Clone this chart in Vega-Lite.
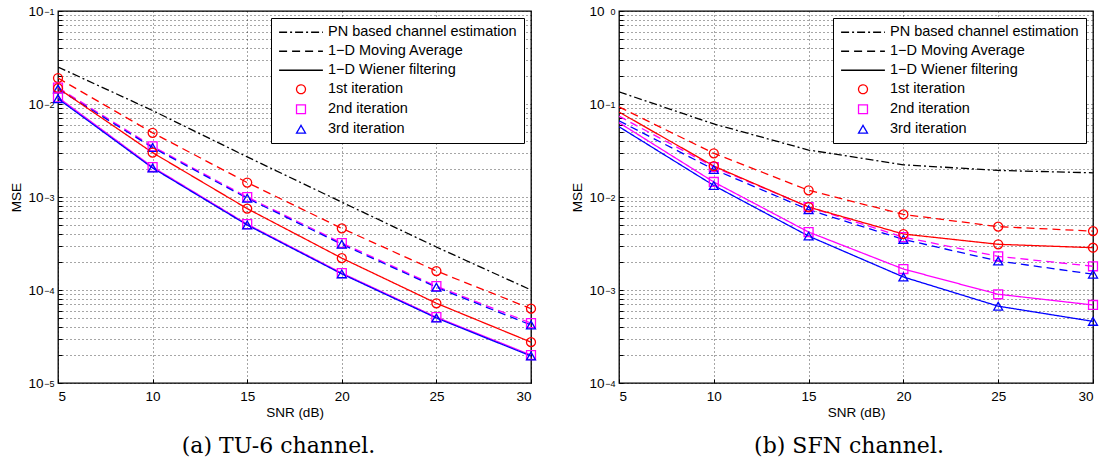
{
  "$schema": "https://vega.github.io/schema/vega-lite/v6.json",
  "background": "white",
  "padding": {"left": 9, "top": 3, "right": 4, "bottom": 5},
  "config": {
    "view": {"stroke": "black", "strokeWidth": 1.3},
    "font": "Liberation Sans",
    "axis": {
      "labelFont": "Liberation Sans", "labelFontSize": 13.5, "labelColor": "black",
      "titleFont": "Liberation Sans", "titleFontSize": 13.5, "titleFontWeight": "normal", "titleColor": "black",
      "grid": true, "gridColor": "black", "gridOpacity": 0.7, "gridDash": [1, 3], "gridWidth": 1,
      "domain": false, "ticks": true, "tickSize": -4, "tickColor": "black", "tickWidth": 1, "labelOverlap": false
    },
    "legend": {
      "orient": "top-right", "offset": 7, "fillColor": "white", "strokeColor": "black", "strokeWidth": 1,
      "padding": 7, "cornerRadius": 0, "labelFont": "Liberation Sans", "labelFontSize": 14.5, "labelColor": "black",
      "labelLimit": 400, "symbolType": "stroke", "symbolSize": 120, "symbolStrokeWidth": 1.3, "labelOffset": 5, "rowPadding": 4
    },
    "title": {"font": "DejaVu Serif", "fontSize": 22, "fontWeight": "normal", "color": "black", "orient": "bottom", "offset": 17}
  },
  "datasets": {
    "tu6": [
      {"snr": 5, "method": "PN based channel estimation", "iter": "none", "mse": 0.025},
      {"snr": 10, "method": "PN based channel estimation", "iter": "none", "mse": 0.0085},
      {"snr": 15, "method": "PN based channel estimation", "iter": "none", "mse": 0.0027},
      {"snr": 20, "method": "PN based channel estimation", "iter": "none", "mse": 0.00088},
      {"snr": 25, "method": "PN based channel estimation", "iter": "none", "mse": 0.00029},
      {"snr": 30, "method": "PN based channel estimation", "iter": "none", "mse": 0.0001},
      {"snr": 5, "method": "1−D Moving Average", "iter": "1st iteration", "mse": 0.019},
      {"snr": 10, "method": "1−D Moving Average", "iter": "1st iteration", "mse": 0.0049},
      {"snr": 15, "method": "1−D Moving Average", "iter": "1st iteration", "mse": 0.00143},
      {"snr": 20, "method": "1−D Moving Average", "iter": "1st iteration", "mse": 0.00046},
      {"snr": 25, "method": "1−D Moving Average", "iter": "1st iteration", "mse": 0.00016},
      {"snr": 30, "method": "1−D Moving Average", "iter": "1st iteration", "mse": 0.000063},
      {"snr": 5, "method": "1−D Moving Average", "iter": "2nd iteration", "mse": 0.015},
      {"snr": 10, "method": "1−D Moving Average", "iter": "2nd iteration", "mse": 0.0035},
      {"snr": 15, "method": "1−D Moving Average", "iter": "2nd iteration", "mse": 0.001},
      {"snr": 20, "method": "1−D Moving Average", "iter": "2nd iteration", "mse": 0.00032},
      {"snr": 25, "method": "1−D Moving Average", "iter": "2nd iteration", "mse": 0.00011},
      {"snr": 30, "method": "1−D Moving Average", "iter": "2nd iteration", "mse": 0.000044},
      {"snr": 5, "method": "1−D Moving Average", "iter": "3rd iteration", "mse": 0.0145},
      {"snr": 10, "method": "1−D Moving Average", "iter": "3rd iteration", "mse": 0.0034},
      {"snr": 15, "method": "1−D Moving Average", "iter": "3rd iteration", "mse": 0.00097},
      {"snr": 20, "method": "1−D Moving Average", "iter": "3rd iteration", "mse": 0.00031},
      {"snr": 25, "method": "1−D Moving Average", "iter": "3rd iteration", "mse": 0.000107},
      {"snr": 30, "method": "1−D Moving Average", "iter": "3rd iteration", "mse": 0.000042},
      {"snr": 5, "method": "1−D Wiener filtering", "iter": "1st iteration", "mse": 0.0148},
      {"snr": 10, "method": "1−D Wiener filtering", "iter": "1st iteration", "mse": 0.003},
      {"snr": 15, "method": "1−D Wiener filtering", "iter": "1st iteration", "mse": 0.00075},
      {"snr": 20, "method": "1−D Wiener filtering", "iter": "1st iteration", "mse": 0.00022},
      {"snr": 25, "method": "1−D Wiener filtering", "iter": "1st iteration", "mse": 0.000072},
      {"snr": 30, "method": "1−D Wiener filtering", "iter": "1st iteration", "mse": 0.0000275},
      {"snr": 5, "method": "1−D Wiener filtering", "iter": "2nd iteration", "mse": 0.0118},
      {"snr": 10, "method": "1−D Wiener filtering", "iter": "2nd iteration", "mse": 0.0021},
      {"snr": 15, "method": "1−D Wiener filtering", "iter": "2nd iteration", "mse": 0.00051},
      {"snr": 20, "method": "1−D Wiener filtering", "iter": "2nd iteration", "mse": 0.000152},
      {"snr": 25, "method": "1−D Wiener filtering", "iter": "2nd iteration", "mse": 0.000051},
      {"snr": 30, "method": "1−D Wiener filtering", "iter": "2nd iteration", "mse": 0.00002},
      {"snr": 5, "method": "1−D Wiener filtering", "iter": "3rd iteration", "mse": 0.0114},
      {"snr": 10, "method": "1−D Wiener filtering", "iter": "3rd iteration", "mse": 0.00205},
      {"snr": 15, "method": "1−D Wiener filtering", "iter": "3rd iteration", "mse": 0.0005},
      {"snr": 20, "method": "1−D Wiener filtering", "iter": "3rd iteration", "mse": 0.000149},
      {"snr": 25, "method": "1−D Wiener filtering", "iter": "3rd iteration", "mse": 0.00005},
      {"snr": 30, "method": "1−D Wiener filtering", "iter": "3rd iteration", "mse": 0.0000195}
    ],
    "sfn": [
      {"snr": 5, "method": "PN based channel estimation", "iter": "none", "mse": 0.135},
      {"snr": 10, "method": "PN based channel estimation", "iter": "none", "mse": 0.061},
      {"snr": 15, "method": "PN based channel estimation", "iter": "none", "mse": 0.032},
      {"snr": 20, "method": "PN based channel estimation", "iter": "none", "mse": 0.0222},
      {"snr": 25, "method": "PN based channel estimation", "iter": "none", "mse": 0.0193},
      {"snr": 30, "method": "PN based channel estimation", "iter": "none", "mse": 0.0182},
      {"snr": 5, "method": "1−D Moving Average", "iter": "1st iteration", "mse": 0.093},
      {"snr": 10, "method": "1−D Moving Average", "iter": "1st iteration", "mse": 0.0295},
      {"snr": 15, "method": "1−D Moving Average", "iter": "1st iteration", "mse": 0.0118},
      {"snr": 20, "method": "1−D Moving Average", "iter": "1st iteration", "mse": 0.0065},
      {"snr": 25, "method": "1−D Moving Average", "iter": "1st iteration", "mse": 0.0048},
      {"snr": 30, "method": "1−D Moving Average", "iter": "1st iteration", "mse": 0.0043},
      {"snr": 5, "method": "1−D Moving Average", "iter": "2nd iteration", "mse": 0.074},
      {"snr": 10, "method": "1−D Moving Average", "iter": "2nd iteration", "mse": 0.021},
      {"snr": 15, "method": "1−D Moving Average", "iter": "2nd iteration", "mse": 0.0078},
      {"snr": 20, "method": "1−D Moving Average", "iter": "2nd iteration", "mse": 0.0037},
      {"snr": 25, "method": "1−D Moving Average", "iter": "2nd iteration", "mse": 0.0023},
      {"snr": 30, "method": "1−D Moving Average", "iter": "2nd iteration", "mse": 0.0018},
      {"snr": 5, "method": "1−D Moving Average", "iter": "3rd iteration", "mse": 0.066},
      {"snr": 10, "method": "1−D Moving Average", "iter": "3rd iteration", "mse": 0.0198},
      {"snr": 15, "method": "1−D Moving Average", "iter": "3rd iteration", "mse": 0.0073},
      {"snr": 20, "method": "1−D Moving Average", "iter": "3rd iteration", "mse": 0.0035},
      {"snr": 25, "method": "1−D Moving Average", "iter": "3rd iteration", "mse": 0.00205},
      {"snr": 30, "method": "1−D Moving Average", "iter": "3rd iteration", "mse": 0.00148},
      {"snr": 5, "method": "1−D Wiener filtering", "iter": "1st iteration", "mse": 0.082},
      {"snr": 10, "method": "1−D Wiener filtering", "iter": "1st iteration", "mse": 0.0215},
      {"snr": 15, "method": "1−D Wiener filtering", "iter": "1st iteration", "mse": 0.0078},
      {"snr": 20, "method": "1−D Wiener filtering", "iter": "1st iteration", "mse": 0.004},
      {"snr": 25, "method": "1−D Wiener filtering", "iter": "1st iteration", "mse": 0.0031},
      {"snr": 30, "method": "1−D Wiener filtering", "iter": "1st iteration", "mse": 0.00285},
      {"snr": 5, "method": "1−D Wiener filtering", "iter": "2nd iteration", "mse": 0.063},
      {"snr": 10, "method": "1−D Wiener filtering", "iter": "2nd iteration", "mse": 0.0145},
      {"snr": 15, "method": "1−D Wiener filtering", "iter": "2nd iteration", "mse": 0.0042},
      {"snr": 20, "method": "1−D Wiener filtering", "iter": "2nd iteration", "mse": 0.00168},
      {"snr": 25, "method": "1−D Wiener filtering", "iter": "2nd iteration", "mse": 0.0009},
      {"snr": 30, "method": "1−D Wiener filtering", "iter": "2nd iteration", "mse": 0.00069},
      {"snr": 5, "method": "1−D Wiener filtering", "iter": "3rd iteration", "mse": 0.057},
      {"snr": 10, "method": "1−D Wiener filtering", "iter": "3rd iteration", "mse": 0.0133},
      {"snr": 15, "method": "1−D Wiener filtering", "iter": "3rd iteration", "mse": 0.0038},
      {"snr": 20, "method": "1−D Wiener filtering", "iter": "3rd iteration", "mse": 0.00138},
      {"snr": 25, "method": "1−D Wiener filtering", "iter": "3rd iteration", "mse": 0.00067},
      {"snr": 30, "method": "1−D Wiener filtering", "iter": "3rd iteration", "mse": 0.00046}
    ]
  },
  "spacing": 31,
  "resolve": {
    "scale": {"x": "independent", "y": "independent", "color": "independent", "strokeDash": "independent", "shape": "independent"},
    "legend": {"strokeDash": "independent", "color": "independent", "shape": "independent"}
  },
  "hconcat": [
    {
      "width": 473, "height": 372,
      "title": {"text": "(a) TU-6 channel.", "dx": -16},
      "data": {"name": "tu6"},
      "resolve": {"axis": {"y": "independent"}},
      "layer": [
        {
          "mark": {"type": "line", "strokeWidth": 1.3, "clip": true},
          "encoding": {
            "x": {"field": "snr", "type": "quantitative", "scale": {"domain": [5, 30], "nice": false, "zero": false},
                  "axis": {"values": [5, 10, 15, 20, 25, 30], "title": "SNR (dB)", "labelPadding": 10, "titlePadding": 3}},
            "y": {"field": "mse", "type": "quantitative", "scale": {"type": "log", "domain": [0.00001, 0.1], "nice": false},
                  "axis": {"title": "MSE", "titlePadding": 4, "labelPadding": 19,
                    "values": [0.00001, 0.00002, 0.00003, 0.00004, 0.00005, 0.00006, 0.00007, 0.00008, 0.00009, 0.0001, 0.0002, 0.0003, 0.0004, 0.0005, 0.0006, 0.0007, 0.0008, 0.0009, 0.001, 0.002, 0.003, 0.004, 0.005, 0.006, 0.007, 0.008, 0.009, 0.01, 0.02, 0.03, 0.04, 0.05, 0.06, 0.07, 0.08, 0.09, 0.1],
                    "labelExpr": "abs(log(datum.value)/LN10 - round(log(datum.value)/LN10)) < 0.000001 ? '10' : ''"}},
            "color": {"field": "iter", "type": "nominal", "scale": {"domain": ["none", "1st iteration", "2nd iteration", "3rd iteration"], "range": ["#000000", "#ff0000", "#ff00ff", "#0000ff"]}, "legend": null},
            "strokeDash": {"field": "method", "type": "nominal",
              "scale": {"domain": ["PN based channel estimation", "1−D Moving Average", "1−D Wiener filtering", "1st iteration", "2nd iteration", "3rd iteration"], "range": [[8, 3, 2, 3], [8, 5], [1, 0], [1, 0], [1, 0], [1, 0]]},
              "legend": {"title": null,
                "encode": {
                  "symbols": {"update": {
                    "x": {"value": 23},
                    "shape": {"signal": "datum.value == '1st iteration' ? 'circle' : datum.value == '2nd iteration' ? 'square' : datum.value == '3rd iteration' ? 'triangle-up' : 'M-4,0H4'"},
                    "stroke": {"signal": "datum.value == '1st iteration' ? '#ff0000' : datum.value == '2nd iteration' ? '#ff00ff' : datum.value == '3rd iteration' ? '#0000ff' : '#000000'"},
                    "size": {"signal": "indexof(['1st iteration','2nd iteration','3rd iteration'], datum.value) >= 0 ? 80 : 120"},
                    "fill": {"value": "transparent"}
                  }},
                  "labels": {"update": {"x": {"value": 50}}}
                }}}
          }
        },
        {
          "mark": {"type": "point", "filled": false, "size": 80, "strokeWidth": 1.3, "opacity": 1},
          "transform": [{"filter": "datum.iter != 'none'"}],
          "encoding": {
            "x": {"field": "snr", "type": "quantitative"},
            "y": {"field": "mse", "type": "quantitative",
                  "axis": {"orient": "left", "title": null, "grid": false, "ticks": false, "tickSize": 0, "domain": false,
                    "values": [0.00001, 0.0001, 0.001, 0.01, 0.1], "labelFontSize": 9, "labelPadding": 4, "labelDy": -6,
                    "labelExpr": "datum.value >= 1 ? '0' : '−' + (-round(log(datum.value)/LN10))"}},
            "color": {"field": "iter", "type": "nominal", "legend": null},
            "shape": {"field": "iter", "type": "nominal", "scale": {"domain": ["1st iteration", "2nd iteration", "3rd iteration"], "range": ["circle", "square", "triangle-up"]}, "legend": null}
          }
        }
      ]
    },
    {
      "width": 474, "height": 372,
      "title": {"text": "(b) SFN channel.", "dx": -7},
      "data": {"name": "sfn"},
      "resolve": {"axis": {"y": "independent"}},
      "layer": [
        {
          "mark": {"type": "line", "strokeWidth": 1.3, "clip": true},
          "encoding": {
            "x": {"field": "snr", "type": "quantitative", "scale": {"domain": [5, 30], "nice": false, "zero": false},
                  "axis": {"values": [5, 10, 15, 20, 25, 30], "title": "SNR (dB)", "labelPadding": 10, "titlePadding": 3}},
            "y": {"field": "mse", "type": "quantitative", "scale": {"type": "log", "domain": [0.0001, 1], "nice": false},
                  "axis": {"title": "MSE", "titlePadding": 4, "labelPadding": 19,
                    "values": [0.0001, 0.0002, 0.0003, 0.0004, 0.0005, 0.0006, 0.0007, 0.0008, 0.0009, 0.001, 0.002, 0.003, 0.004, 0.005, 0.006, 0.007, 0.008, 0.009, 0.01, 0.02, 0.03, 0.04, 0.05, 0.06, 0.07, 0.08, 0.09, 0.1, 0.2, 0.3, 0.4, 0.5, 0.6, 0.7, 0.8, 0.9, 1],
                    "labelExpr": "abs(log(datum.value)/LN10 - round(log(datum.value)/LN10)) < 0.000001 ? '10' : ''"}},
            "color": {"field": "iter", "type": "nominal", "scale": {"domain": ["none", "1st iteration", "2nd iteration", "3rd iteration"], "range": ["#000000", "#ff0000", "#ff00ff", "#0000ff"]}, "legend": null},
            "strokeDash": {"field": "method", "type": "nominal",
              "scale": {"domain": ["PN based channel estimation", "1−D Moving Average", "1−D Wiener filtering", "1st iteration", "2nd iteration", "3rd iteration"], "range": [[8, 3, 2, 3], [8, 5], [1, 0], [1, 0], [1, 0], [1, 0]]},
              "legend": {"title": null,
                "encode": {
                  "symbols": {"update": {
                    "x": {"value": 23},
                    "shape": {"signal": "datum.value == '1st iteration' ? 'circle' : datum.value == '2nd iteration' ? 'square' : datum.value == '3rd iteration' ? 'triangle-up' : 'M-4,0H4'"},
                    "stroke": {"signal": "datum.value == '1st iteration' ? '#ff0000' : datum.value == '2nd iteration' ? '#ff00ff' : datum.value == '3rd iteration' ? '#0000ff' : '#000000'"},
                    "size": {"signal": "indexof(['1st iteration','2nd iteration','3rd iteration'], datum.value) >= 0 ? 80 : 120"},
                    "fill": {"value": "transparent"}
                  }},
                  "labels": {"update": {"x": {"value": 50}}}
                }}}
          }
        },
        {
          "mark": {"type": "point", "filled": false, "size": 80, "strokeWidth": 1.3, "opacity": 1},
          "transform": [{"filter": "datum.iter != 'none' && datum.snr > 5"}],
          "encoding": {
            "x": {"field": "snr", "type": "quantitative"},
            "y": {"field": "mse", "type": "quantitative",
                  "axis": {"orient": "left", "title": null, "grid": false, "ticks": false, "tickSize": 0, "domain": false,
                    "values": [0.0001, 0.001, 0.01, 0.1, 1], "labelFontSize": 9, "labelPadding": 4, "labelDy": -6,
                    "labelExpr": "datum.value >= 1 ? '0' : '−' + (-round(log(datum.value)/LN10))"}},
            "color": {"field": "iter", "type": "nominal", "legend": null},
            "shape": {"field": "iter", "type": "nominal", "scale": {"domain": ["1st iteration", "2nd iteration", "3rd iteration"], "range": ["circle", "square", "triangle-up"]}, "legend": null}
          }
        }
      ]
    }
  ]
}
